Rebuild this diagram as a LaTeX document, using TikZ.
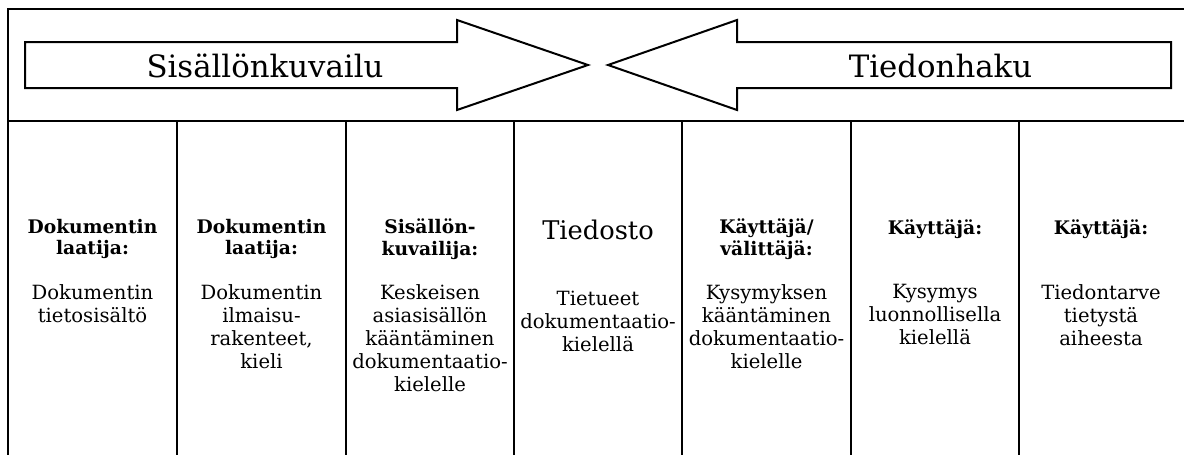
\documentclass[tikz,border=0pt]{standalone}
\usepackage{fontspec}
\setmainfont{DejaVu Serif}
\begin{document}
\begin{tikzpicture}[x=1pt,y=-1pt,
  frame/.style={line width=2.3pt},
  bigarrow/.style={line width=2pt, line join=miter},
  title/.style={font=\fontsize{30.8}{35}\selectfont, anchor=base, inner sep=0pt},
  hdr/.style={font=\fontsize{18.7}{21.7}\selectfont\bfseries, align=center, anchor=north, inner sep=0pt, execute at begin node=\strut},
  body/.style={font=\fontsize{19.6}{23}\selectfont, align=center, anchor=north, inner sep=0pt, execute at begin node=\strut},
  big/.style={font=\fontsize{25.7}{29}\selectfont, anchor=base, inner sep=0pt}]
\useasboundingbox (0,0) rectangle (1184,455);
% frame
\coordinate (tl) at (8,9);
\coordinate (tr) at (1190,9);
\coordinate (ml) at (8,121);
\coordinate (mr) at (1190,121);
\coordinate (bl) at (8,460);
\draw[frame] (tr) -- (tl) -- (bl);
\draw[frame] (ml) -- (mr);
\foreach \x [count=\i] in {177,346,514,682,851,1019}{
  \coordinate (d\i t) at (\x,121);
  \coordinate (d\i b) at (\x,460);
  \draw[frame] (d\i t) -- (d\i b);
}
% arrows
\draw[bigarrow] (25,42) -- (457,42) -- (457,20) -- (588,65) -- (457,110) -- (457,88) -- (25,88) -- cycle;
\draw[bigarrow] (1171,42) -- (737,42) -- (737,20) -- (608,65) -- (737,110) -- (737,88) -- (1171,88) -- cycle;
\node[title] (sk) at (265,77) {Sisällönkuvailu};
\node[title] (th) at (940.5,77) {Tiedonhaku};
% column texts
\node[hdr] (h1) at (92.5,218.8) {Dokumentin\\laatija:};
\node[body] (b1) at (92.5,284.4) {Dokumentin\\tietosisältö};
\node[hdr] (h2) at (261.5,218.8) {Dokumentin\\laatija:};
\node[body] (b2) at (261.5,284.4) {Dokumentin\\ilmaisu-\\rakenteet,\\kieli};
\node[hdr] (h3) at (430,218.8) {Sisällön-\\kuvailija:};
\node[body] (b3) at (430,284.4) {Keskeisen\\asiasisällön\\kääntäminen\\dokumentaatio-\\kielelle};
\node[big] (h4) at (598,239) {Tiedosto};
\node[body] (b4) at (598,290.4) {Tietueet\\dokumentaatio-\\kielellä};
\node[hdr] (h5) at (766.5,218.8) {Käyttäjä/\\välittäjä:};
\node[body] (b5) at (766.5,284.4) {Kysymyksen\\kääntäminen\\dokumentaatio-\\kielelle};
\node[hdr] (h6) at (935,218.8) {Käyttäjä:};
\node[body] (b6) at (935,284.4) {Kysymys\\luonnollisella\\kielellä};
\node[hdr] (h7) at (1101,218.8) {Käyttäjä:};
\node[body] (b7) at (1101,284.4) {Tiedontarve\\tietystä\\aiheesta};
\end{tikzpicture}
\end{document}
